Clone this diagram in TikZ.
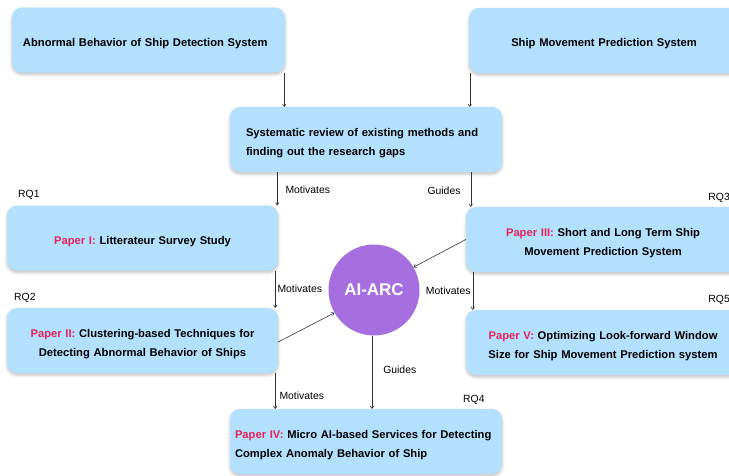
\documentclass[tikz,border=0pt]{standalone}
\usepackage{fontspec}
\setmainfont{Liberation Sans}
\usetikzlibrary{shadows.blur,arrows.meta}
\definecolor{boxblue}{HTML}{B3E0FC}
\definecolor{paperred}{HTML}{E5245A}
\definecolor{arcpurple}{HTML}{A66FE0}
\definecolor{inkgray}{HTML}{333333}
\tikzset{
  box/.style={draw=none, fill=boxblue, rounded corners=10pt, minimum height=65pt,
    font=\fontsize{11.2}{19}\selectfont\bfseries, text=black,
    execute at begin node={\rule{0pt}{15pt}},
    blur shadow={shadow xshift=0pt, shadow yshift=-2pt, shadow blur radius=3pt, shadow opacity=25}},
  arr/.style={draw=inkgray, line width=0.6pt, -{To[length=3pt,width=4pt]}},
  lbl/.style={font=\fontsize{10.4}{12}\selectfont, text=black, inner sep=0pt},
  hub/.style={circle, fill=arcpurple, minimum size=91pt, inner sep=0pt,
    font=\fontsize{17}{19}\selectfont\bfseries, text=white}
}
\newcommand{\paperlabel}[1]{\textcolor{paperred}{#1}}
\begin{document}
\begin{tikzpicture}[x=1pt,y=-1pt]
\useasboundingbox (0,0) rectangle (729,475);

% top row: the two systems
\node[box, minimum width=273pt, text width=251pt, inner xsep=11pt, align=left] (abn) at (148.5,40) {Abnormal Behavior of Ship Detection System};
\node[box, minimum width=270pt, text width=250pt, align=center] (mov) at (604,40.5) {Ship Movement Prediction System};

% systematic review
\node[box, minimum width=272pt, text width=240pt, inner xsep=16pt, align=left] (rev) at (366,139.5) {Systematic review of existing methods and\\finding out the research gaps};

% papers
\node[box, minimum width=271pt, text width=259pt, align=center] (p1) at (142.5,238) {\paperlabel{Paper I:} Litterateur Survey Study};
\node[box, minimum width=271pt, text width=259pt, align=center] (p2) at (142.5,340.5) {\paperlabel{Paper II:} Clustering-based Techniques for\\Detecting Abnormal Behavior of Ships};
\node[box, minimum width=274pt, text width=262pt, align=center] (p3) at (603,239.5) {\paperlabel{Paper III:} Short and Long Term Ship\\Movement Prediction System};
\node[box, minimum width=274pt, text width=262pt, align=center] (p5) at (603,342.5) {\paperlabel{Paper V:} Optimizing Look-forward Window\\Size for Ship Movement Prediction system};
\node[box, minimum width=272pt, text width=262pt, inner xsep=5pt, align=left] (p4) at (366,441.5) {\paperlabel{Paper IV:} Micro AI-based Services for Detecting\\Complex Anomaly Behavior of Ship};

% central hub
\node[hub] (arc) at (374,290) {AI-ARC};

% research questions
\node[lbl, anchor=west] (rq1) at (18,195) {RQ1};
\node[lbl, anchor=west] (rq2) at (14,298) {RQ2};
\node[lbl, anchor=east] (rq3) at (730,198) {RQ3};
\node[lbl, anchor=west] (rq4) at (463,400) {RQ4};
\node[lbl, anchor=east] (rq5) at (730,300) {RQ5};

% connectors
\draw[arr] ([xshift=-1pt]abn.south east) -- ([xshift=-1pt]abn.south east |- rev.north);
\draw[arr] ([xshift=1pt]mov.south west) -- ([xshift=1pt]mov.south west |- rev.north);
\draw[arr] ([xshift=-1pt]p1.north east |- rev.south) -- node[lbl, anchor=west, xshift=8pt, yshift=-1pt] (m1) {Motivates} ([xshift=-1pt]p1.north east);
\draw[arr] ([xshift=5pt]p3.north west |- rev.south) -- node[lbl, anchor=east, xshift=-10pt, yshift=-1pt] (g1) {Guides} ([xshift=5pt]p3.north west);
\draw[arr] ([xshift=-3pt]p1.south east) -- node[lbl, anchor=west, xshift=2pt] (m2) {Motivates} ([xshift=-3pt]p2.north east);
\draw[arr] ([xshift=7pt]p3.south west) -- node[lbl, anchor=east, xshift=-2pt] (m3) {Motivates} ([xshift=7pt]p5.north west);
\draw[arr] ([yshift=-1.5pt]p2.east) -- (arc.210);
\draw[arr] (p3.west) -- (arc.30);
\draw[arr] ([xshift=-3pt]p2.south east) -- node[lbl, anchor=west, xshift=4pt, yshift=-5pt] (m4) {Motivates} ([xshift=-3pt]p2.south east |- p4.north);
\draw[arr] ([xshift=-2pt]arc.south) -- node[lbl, anchor=west, xshift=11pt, yshift=2pt] (g2) {Guides} ([xshift=-2pt]arc.south |- p4.north);
\end{tikzpicture}
\end{document}
